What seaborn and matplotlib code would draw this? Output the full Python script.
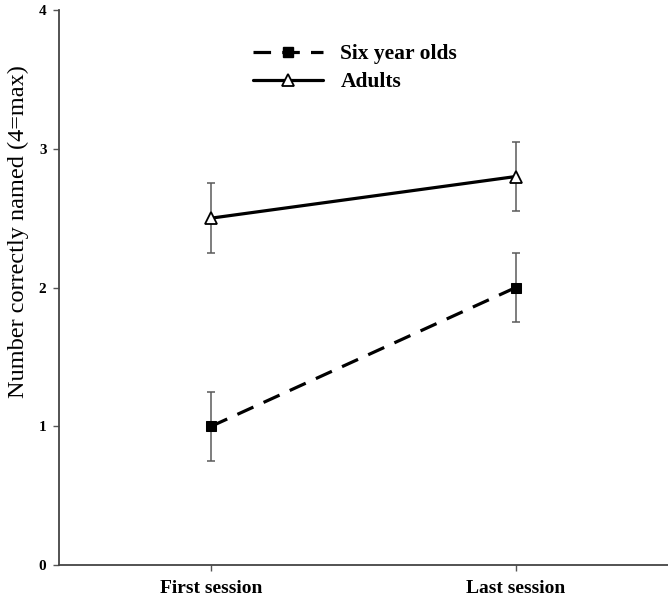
import matplotlib
matplotlib.use("Agg")
import matplotlib.pyplot as plt
import seaborn as sns
import pandas as pd
from matplotlib.lines import Line2D

sessions = ["First session", "Last session"]
groups = ["Six year olds", "Adults"]
six_means = [1.0, 2.0]
six_err = [0.25, 0.25]
adult_means = [2.5, 2.8]
adult_err = [0.25, 0.25]
yticks = [0, 1, 2, 3, 4]

sns.set_theme(style="ticks")
plt.rcParams["font.family"] = ["Liberation Serif", "DejaVu Serif"]
plt.rcParams["text.color"] = "black"
plt.rcParams["axes.labelcolor"] = "black"
plt.rcParams["xtick.labelcolor"] = "black"
plt.rcParams["ytick.labelcolor"] = "black"

df = pd.DataFrame({
    "session": [0, 1, 0, 1],
    "value": six_means + adult_means,
    "group": [groups[0]] * 2 + [groups[1]] * 2,
})

fig = plt.figure(figsize=(6.68, 6.0), dpi=100)
ax = fig.add_axes([0.0883, 0.0583, 0.9117, 0.925])

LW = 2.3
DASH = (0, (5.5, 3.5))

# error bars
for means, errs in [(six_means, six_err), (adult_means, adult_err)]:
    ax.errorbar([0, 1], means, yerr=errs, fmt="none", ecolor="#5a5a5a",
                elinewidth=1.1, capsize=2.8, capthick=1.1, zorder=1)

sns.lineplot(data=df[df.group == groups[0]], x="session", y="value", ax=ax,
             color="black", lw=LW, linestyle=DASH, marker="s",
             markersize=7, markerfacecolor="black", markeredgecolor="black",
             legend=False, zorder=3)
sns.lineplot(data=df[df.group == groups[1]], x="session", y="value", ax=ax,
             color="black", lw=LW, marker="^", markersize=9,
             markerfacecolor="white", markeredgecolor="black", markeredgewidth=1.3,
             legend=False, zorder=3)

ax.set_xlim(-0.5, 1.5)
ax.set_ylim(0, 4)
ax.set_xticks([0, 1])
ax.set_xticklabels(sessions, fontsize=14, fontweight="bold", color="black")
ax.set_yticks(yticks)
ax.set_yticklabels([str(t) for t in yticks], fontsize=11, fontweight="bold", color="black")
ax.set_xlabel("")
ax.set_ylabel("Number correctly named (4=max)", fontsize=17.5, color="black")
ax.yaxis.set_label_coords(-0.05, 0.6)
ax.tick_params(axis="both", direction="out", length=4, width=1, color="#555555")
ax.tick_params(axis="x", pad=7)
ax.tick_params(axis="y", pad=5)
for s in ["top", "right"]:
    ax.spines[s].set_visible(False)
for s in ["left", "bottom"]:
    ax.spines[s].set_color("#444444")
    ax.spines[s].set_linewidth(1.3)

handles = [
    Line2D([], [], color="black", lw=LW, linestyle=DASH, marker="s",
           markersize=7, markerfacecolor="black"),
    Line2D([], [], color="black", lw=LW, marker="^", markersize=9,
           markerfacecolor="white", markeredgecolor="black", markeredgewidth=1.3),
]
leg = ax.legend(handles, groups, loc="upper left", bbox_to_anchor=(0.287, 0.973),
                frameon=False, handlelength=3.25, handletextpad=0.8, labelspacing=0.35,
                prop={"family": "Liberation Serif", "weight": "bold", "size": 15.5})
for t in leg.get_texts():
    t.set_color("black")

fig.savefig("out.png", dpi=100)
